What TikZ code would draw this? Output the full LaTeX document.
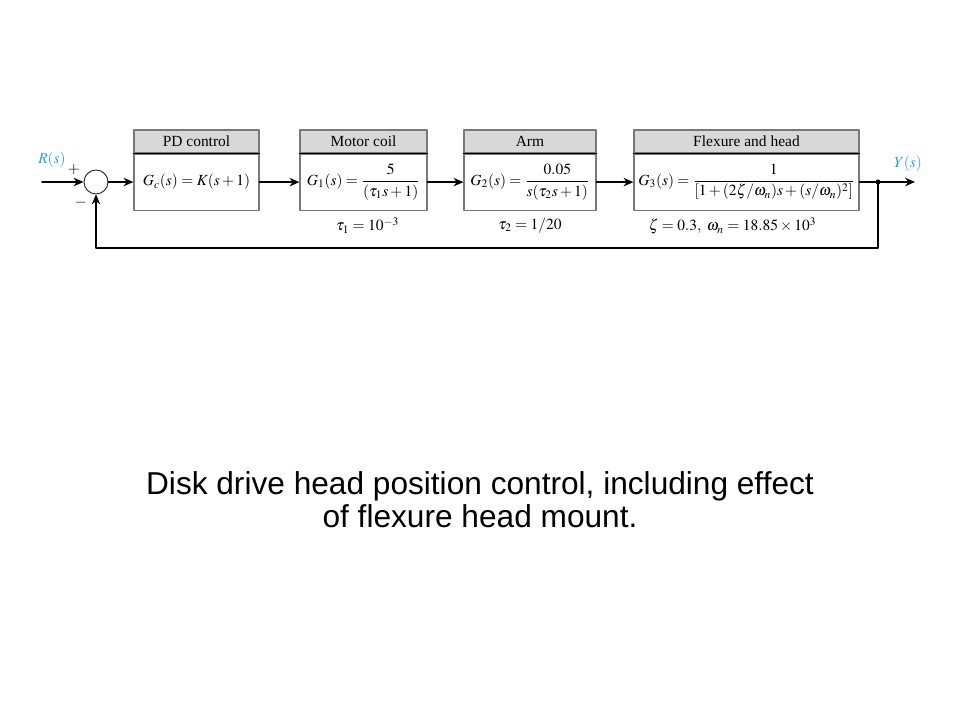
\documentclass[tikz,border=0pt]{standalone}
\usepackage{mathptmx}
\usepackage{fontspec}
\setmainfont{Liberation Serif}
\newfontfamily\captionfont{Liberation Sans}
\usetikzlibrary{positioning,arrows.meta}
\definecolor{sigblue}{RGB}{40,160,220}
\definecolor{headgray}{RGB}{216,216,216}
\definecolor{boxgray}{RGB}{120,120,120}
\begin{document}
\begin{tikzpicture}[>={Stealth[length=7pt,width=6pt]},x=0.025cm,y=-0.025cm,line cap=round,line join=round,font=\fontsize{11}{13}\selectfont,
		head/.style={draw=boxgray,fill=headgray,line width=0.8pt,minimum height=0.575cm,inner sep=0pt},
		body/.style={draw=boxgray,fill=white,line width=0.8pt,minimum height=1.4cm,inner sep=0pt},
		sig/.style={line width=1.2pt},
		sep/.style={line width=1.1pt,black}]
				\useasboundingbox (0,0) rectangle (960,720);
				% blocks
				\node[head,minimum width=3.125cm] (PDhead) at (196.5,141.5) {PD control};
				\node[body,minimum width=3.125cm,below=0cm of PDhead] (PDbody) {$G_c(s) = K(s + 1)$};
				\node[head,minimum width=3.175cm] (MChead) at (363.5,141.5) {Motor coil};
				\node[body,minimum width=3.175cm,below=0cm of MChead] (MCbody) {$G_1(s) = \displaystyle\frac{5}{(\tau_1 s + 1)}$};
				\node[head,minimum width=3.3cm] (ARhead) at (530,141.5) {Arm};
				\node[body,minimum width=3.3cm,below=0cm of ARhead] (ARbody) {$G_2(s) = \displaystyle\frac{0.05}{s(\tau_2 s + 1)}$};
				\node[head,minimum width=5.625cm] (FHhead) at (746.5,141.5) {Flexure and head};
				\node[body,minimum width=5.625cm,below=0cm of FHhead] (FHbody) {$G_3(s) = \displaystyle\frac{1}{[1 + (2\zeta/\omega_n)s + (s/\omega_n)^2]}$};
				\foreach \b in {PD,MC,AR,FH}
				\draw[sep] (\b head.south west) -- (\b head.south east);
				% parameters
				\node[below=0.05cm of MCbody,xshift=0.1cm] (MCpar) {$\tau_1 = 10^{-3}$};
				\node[below=0.05cm of ARbody] (ARpar) {$\tau_2 = 1/20$};
				\node[below=0.05cm of FHbody,xshift=-0.35cm] (FHpar) {$\zeta = 0.3,\ \omega_n = 18.85 \times 10^3$};
				% summing point and signals
				\node[circle,draw=black!80,line width=0.7pt,minimum size=0.6cm,inner sep=0pt] (sum) at (96,182) {};
				\coordinate (in) at (42,182);
				\coordinate (branch) at (878,182);
				\coordinate (out) at (915,182);
				\coordinate (fbR) at (878,248);
				\coordinate (fbL) at (96,248);
				\draw[sig,->] (in) -- (sum);
				\foreach \a/\b in {sum/PDbody,PDbody/MCbody,MCbody/ARbody,ARbody/FHbody}
				\draw[sig,->] (\a) -- (\b);
				\draw[sig,->] (FHbody) -- (out);
				\draw[sig,->] (branch) -- (fbR) -- (fbL) -- (sum);
				\fill (branch) circle (2.5);
				\node[text=sigblue] (Rlbl) at (52,160) {$R(s)$};
				\node[text=sigblue] (Ylbl) at (908,164) {$Y(s)$};
				\node (plus) at (74,170) {$+$};
				\node (minus) at (81,203) {$-$};
				% caption
				\node[align=center,font=\captionfont\fontsize{22.5}{23.5}\selectfont] (caption) at (480,500) {Disk drive head position control, including effect\\of flexure head mount.};
			\end{tikzpicture}
\end{document}
